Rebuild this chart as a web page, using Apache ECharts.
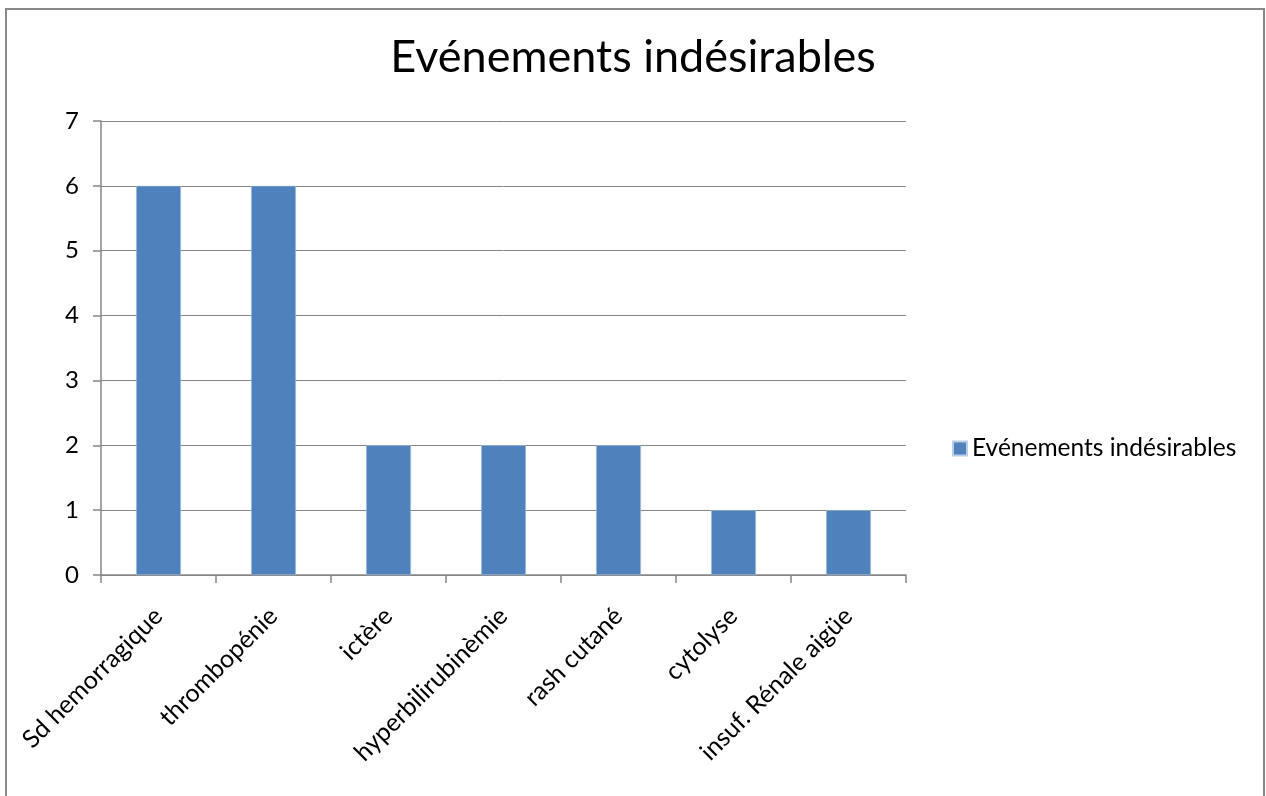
<!DOCTYPE html>
<html>
<head>
<meta charset="utf-8">
<script src="https://cdn.jsdelivr.net/npm/echarts@6/dist/echarts.min.js"></script>
<style>html,body{margin:0;padding:0;background:#fff}#c{width:1266px;height:796px}</style>
</head>
<body>
<div id="c"></div>
<script>
const categories = ["Sd hemorragique","thrombopénie","ictère","hyperbilirubinèmie","rash cutané","cytolyse","insuf. Rénale aigüe"];
const values = [6,6,2,2,2,1,1];
const seriesName = "Evénements indésirables";
const titleText = "Evénements indésirables";

const chart = echarts.init(document.getElementById('c'), null, {renderer:'canvas'});
const FONT = 'Lato';
chart.setOption({
  animation:false,
  backgroundColor:'#fff',
  graphic:[{type:'rect',shape:{x:6,y:9,width:1258,height:820},style:{fill:'none',stroke:'#888',lineWidth:2},silent:true}],
  title:{text:titleText,left:'center',top:30,textStyle:{fontFamily:FONT,fontSize:45,fontWeight:'normal',color:'#000'}},
  legend:{data:[seriesName],left:947,top:431,itemWidth:14,itemHeight:14,itemGap:8,
    textStyle:{fontFamily:FONT,fontSize:24.5,color:'#000'},icon:'rect'},
  grid:{left:101,top:121,right:360,bottom:221,containLabel:false},
  xAxis:{type:'category',data:categories,
    axisLine:{lineStyle:{color:'#868686',width:1.5}},
    axisTick:{show:true,length:8,alignWithLabel:false,lineStyle:{color:'#868686',width:1.5}},
    axisLabel:{rotate:45,interval:0,margin:37,fontFamily:FONT,fontSize:25,color:'#000'}},
  yAxis:{type:'value',min:0,max:7,interval:1,
    axisLine:{show:true,lineStyle:{color:'#868686',width:1.5}},
    axisTick:{show:true,length:8,lineStyle:{color:'#868686',width:1.5}},
    splitLine:{lineStyle:{color:'#868686',width:1}},
    axisLabel:{margin:22,fontFamily:FONT,fontSize:24,color:'#000'}},
  series:[{name:seriesName,type:'bar',data:values,barWidth:'39%',
    itemStyle:{color:'#4F81BD',borderColor:'#b9cde5',borderWidth:0.5}}]
});
</script>
</body>
</html>
